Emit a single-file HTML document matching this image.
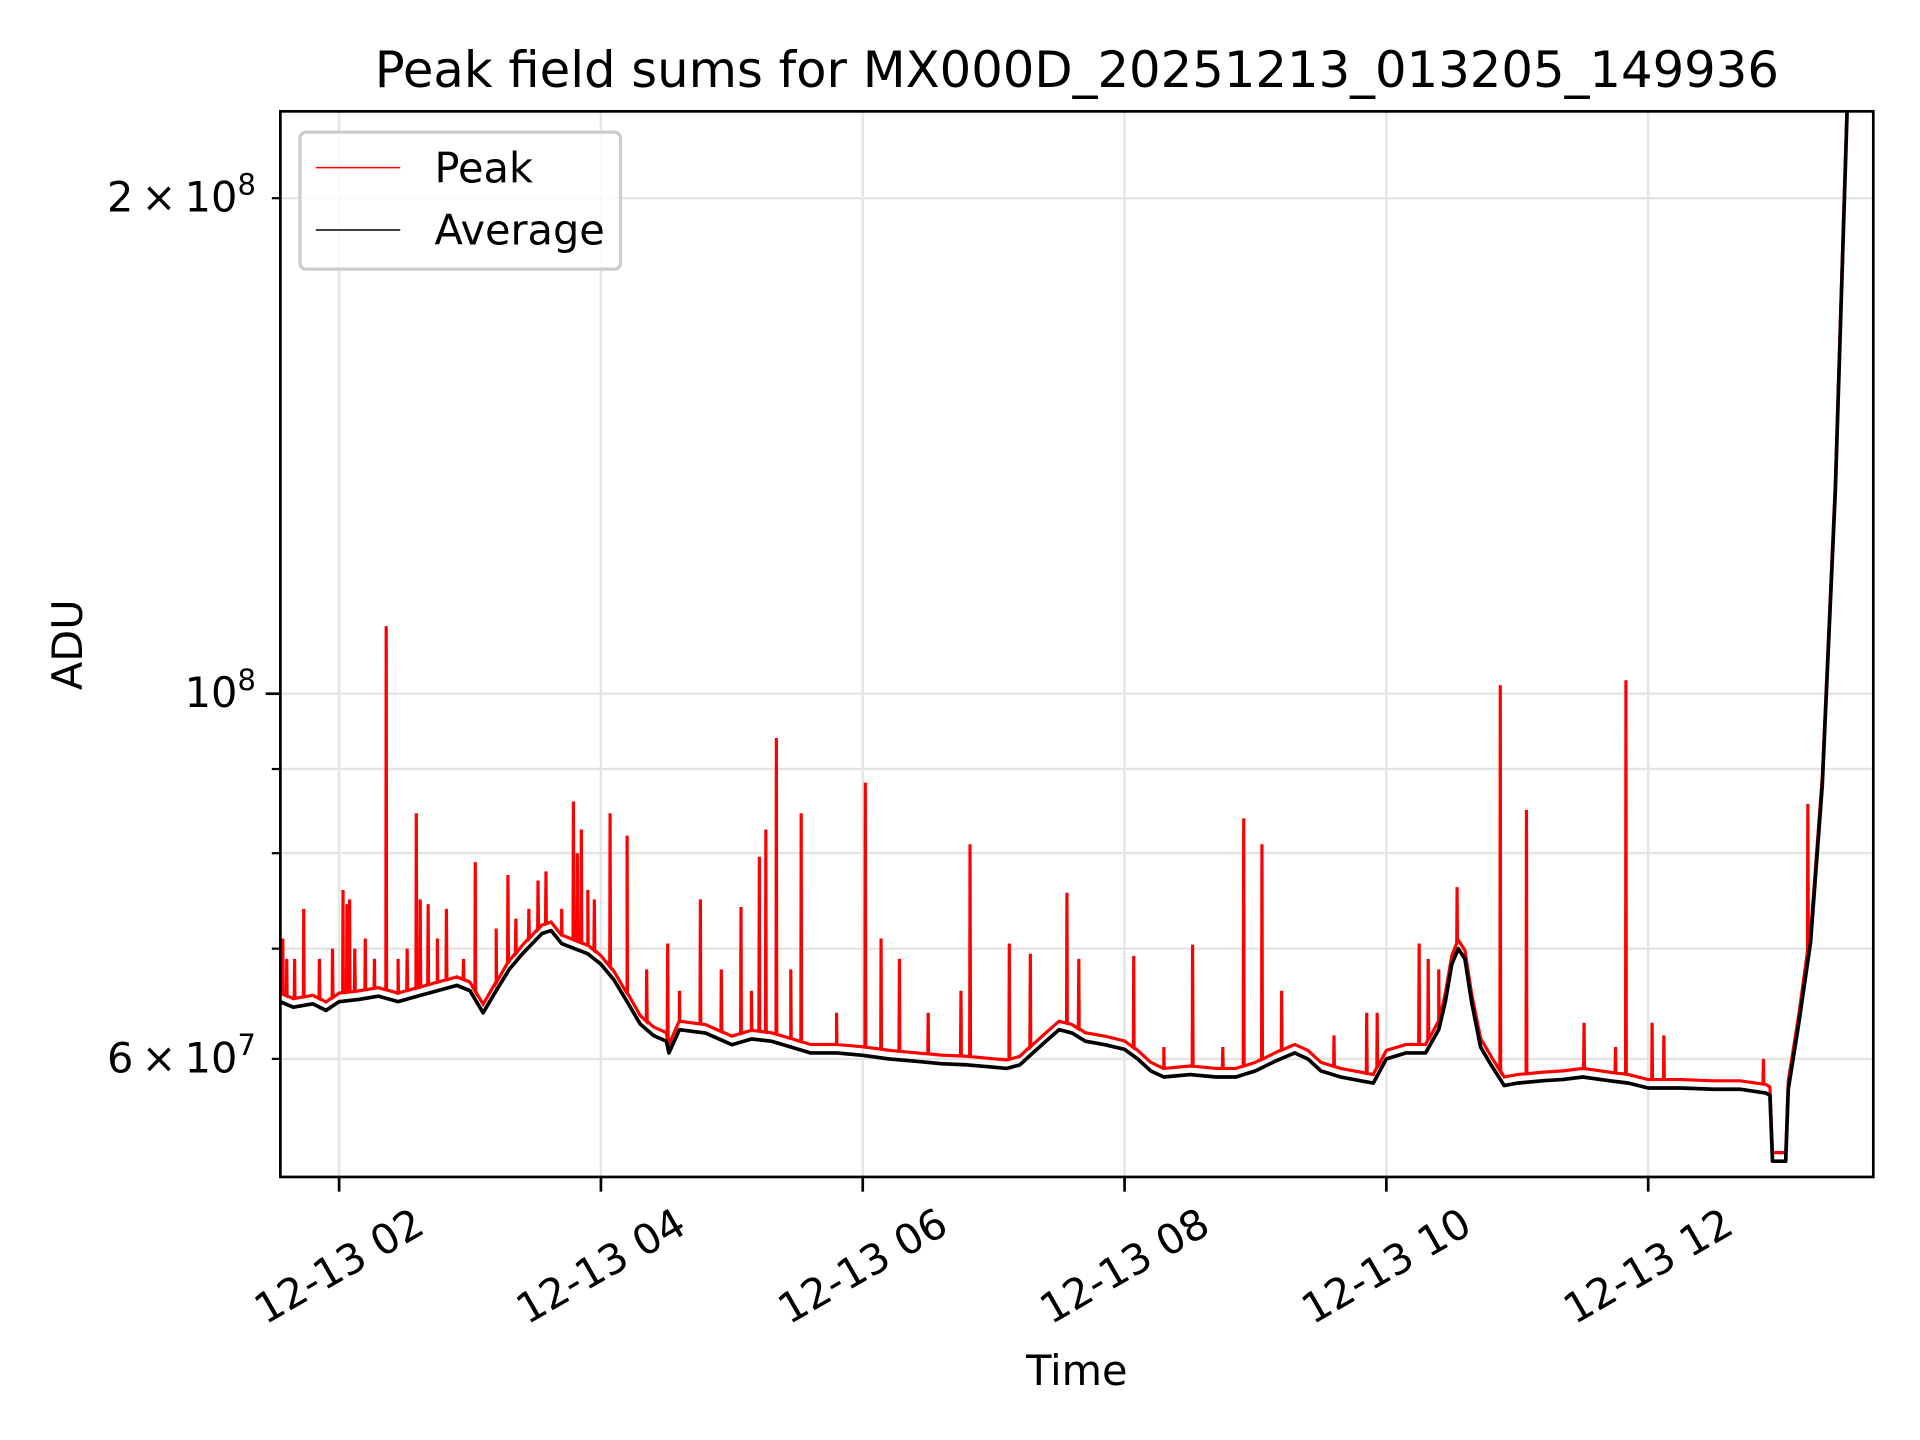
<!DOCTYPE html>
<html><head><meta charset="utf-8"><style>
html,body{margin:0;padding:0;background:#fff;}
svg{display:block;font-family:"DejaVu Sans","Liberation Sans",sans-serif;}
</style></head><body>
<svg id="chart" width="1920" height="1440" viewBox="0 0 1569 1177" xmlns="http://www.w3.org/2000/svg">
<rect x="0" y="0" width="1569" height="1177" fill="#fff"/>
<g id="grid"></g>
<g id="series"></g>
<g id="axes"></g>
<text x="880" y="71" font-size="40.6" text-anchor="middle" fill="#000">Peak field sums for MX000D_20251213_013205_149936</text>
<text x="880" y="1132" font-size="33.9" text-anchor="middle" fill="#000">Time</text>
<text transform="translate(67,527) rotate(-90)" font-size="33.9" text-anchor="middle" fill="#000">ADU</text>
<g>
<rect x="245" y="108" width="262" height="112" rx="5" fill="#fff" fill-opacity="0.8" stroke="#ccc" stroke-width="2.7"/>
<line x1="258" y1="137" x2="327" y2="137" stroke="#f00" stroke-width="1.2"/>
<text x="355" y="149" font-size="33.9">Peak</text>
<line x1="258" y1="188" x2="327" y2="188" stroke="#000" stroke-width="1.2"/>
<text x="355" y="200" font-size="33.9">Average</text>
</g>
</svg>
<script>
// Data (hours of 2025-12-13, values in units of 1e7 ADU)
const avgHours = [1.55,1.65,1.8,1.9,2.0,2.15,2.3,2.45,2.6,2.75,2.9,3.0,3.05,3.1,3.2,3.3,3.4,3.55,3.62,3.7,3.8,3.9,4.0,4.1,4.2,4.3,4.4,4.5,4.52,4.6,4.8,5.0,5.15,5.3,5.45,5.6,5.8,6.0,6.2,6.4,6.6,6.8,7.0,7.1,7.2,7.3,7.4,7.5,7.6,7.7,7.85,8.0,8.1,8.2,8.3,8.5,8.7,8.85,9.0,9.15,9.3,9.4,9.5,9.65,9.8,9.9,10.0,10.15,10.3,10.4,10.45,10.5,10.55,10.6,10.65,10.72,10.8,10.9,11.0,11.2,11.35,11.5,11.7,11.85,12.0,12.25,12.5,12.7,12.9,12.93,12.95,13.05,13.07,13.15,13.24,13.33,13.43,13.52,13.6,13.72];
const avgValues = [6.5,6.45,6.48,6.42,6.5,6.52,6.55,6.5,6.55,6.6,6.65,6.6,6.5,6.4,6.6,6.8,6.95,7.15,7.18,7.05,7.0,6.95,6.85,6.7,6.5,6.3,6.2,6.15,6.05,6.25,6.22,6.12,6.17,6.15,6.1,6.05,6.05,6.03,6.0,5.98,5.96,5.95,5.93,5.92,5.95,6.05,6.15,6.25,6.22,6.15,6.12,6.08,6.0,5.9,5.85,5.87,5.85,5.85,5.9,5.98,6.05,6.0,5.9,5.85,5.82,5.8,6.0,6.05,6.05,6.25,6.5,6.85,7.0,6.9,6.5,6.1,5.95,5.78,5.8,5.82,5.83,5.85,5.82,5.8,5.76,5.76,5.75,5.75,5.72,5.7,5.2,5.2,5.75,6.3,7.06,8.8,13.3,22.6,30,40];
const spikeHours = [1.57,1.6,1.66,1.73,1.85,1.95,2.03,2.06,2.08,2.12,2.2,2.27,2.36,2.45,2.52,2.59,2.62,2.68,2.75,2.82,2.95,3.04,3.2,3.29,3.35,3.45,3.52,3.58,3.7,3.79,3.82,3.85,3.9,3.95,4.07,4.2,4.35,4.51,4.6,4.76,4.92,5.07,5.15,5.21,5.26,5.34,5.45,5.53,5.8,6.02,6.14,6.28,6.5,6.75,6.82,7.12,7.28,7.56,7.65,8.07,8.3,8.52,8.75,8.91,9.05,9.2,9.6,9.85,9.93,10.25,10.32,10.4,10.54,10.87,11.07,11.51,11.75,11.83,12.03,12.12,12.88,13.22];
const spikeValues = [7.1,6.9,6.9,7.4,6.9,7.0,7.6,7.45,7.5,7.0,7.1,6.9,10.99,6.9,7.0,8.46,7.5,7.45,7.1,7.4,6.9,7.9,7.2,7.76,7.3,7.4,7.7,7.8,7.4,8.6,8.0,8.27,7.6,7.5,8.46,8.2,6.8,7.05,6.6,7.5,6.8,7.42,6.6,7.96,8.27,9.4,6.8,8.46,6.4,8.83,7.1,6.9,6.4,6.6,8.1,7.05,6.95,7.57,6.9,6.93,6.1,7.04,6.1,8.4,8.1,6.6,6.2,6.4,6.4,7.05,6.9,6.8,7.63,10.12,8.5,6.31,6.1,10.19,6.31,6.2,6.0,8.57];
const xTickHours = [2,4,6,8,10,12];
const xTickLabels = ["12-13 02","12-13 04","12-13 06","12-13 08","12-13 10","12-13 12"];
const yMinorTicks = [6,7,8,9,20];

const NS="http://www.w3.org/2000/svg";
const L=229,R=1531,T=91,B=962;
const xS=h=>277+(h-2)*107;
const yS=v=>567-1345.4*Math.log10(v/10);
function mk(tag,attrs,parent){const e=document.createElementNS(NS,tag);for(const k in attrs)e.setAttribute(k,attrs[k]);parent.appendChild(e);return e;}
const grid=document.getElementById('grid'),series=document.getElementById('series'),axes=document.getElementById('axes');

xTickHours.forEach(h=>{const g=mk('line',{x1:xS(h),x2:xS(h),y1:T,y2:B,stroke:'#e5e5e5','stroke-width':2},grid);

});
[10].concat(yMinorTicks).forEach(v=>{const g=mk('line',{x1:L,x2:R,y1:yS(v),y2:yS(v),stroke:'#e5e5e5','stroke-width':2},grid);

});

const defs=mk('defs',{},series);const cp=mk('clipPath',{id:'clip'},defs);mk('rect',{x:L,y:T,width:R-L,height:B-T},cp);

function baseAt(h){for(let i=0;i<avgHours.length-1;i++){if(h>=avgHours[i]&&h<=avgHours[i+1]){const t=(h-avgHours[i])/(avgHours[i+1]-avgHours[i]);return avgValues[i]+t*(avgValues[i+1]-avgValues[i]);}}return avgValues[avgValues.length-1];}
let pk=avgHours.map((h,i)=>[h,avgValues[i]*1.012]);
spikeHours.forEach((h,i)=>{const b=baseAt(h)*1.012;pk.push([h-0.003,b],[h,spikeValues[i]],[h+0.003,b]);});
pk.sort((a,b)=>a[0]-b[0]);
const pPath=pk.map((p,i)=>(i?'L':'M')+xS(p[0]).toFixed(1)+','+yS(p[1]).toFixed(1)).join('');
const peak=mk('path',{d:pPath,fill:'none',stroke:'#f00','stroke-width':2.6,'clip-path':'url(#clip)'},series);


const aPath=avgHours.map((h,i)=>(i?'L':'M')+xS(h).toFixed(1)+','+yS(avgValues[i]).toFixed(1)).join('');
const avg=mk('path',{d:aPath,fill:'none',stroke:'#000','stroke-width':3,'stroke-linejoin':'round','clip-path':'url(#clip)'},series);



const fr=mk('rect',{x:L,y:T,width:R-L,height:B-T,fill:'none',stroke:'#000','stroke-width':2.2},axes);


xTickHours.forEach((h,i)=>{const x=xS(h);mk('line',{x1:x,x2:x,y1:B,y2:B+12,stroke:'#000','stroke-width':2.2},axes);
const t=mk('text',{transform:`translate(${x},1035) rotate(-30)`,'font-size':33.9,'text-anchor':'middle','dominant-baseline':'central'},axes);
t.textContent=xTickLabels[i];

});
mk('line',{x1:L-12,x2:L,y1:yS(10),y2:yS(10),stroke:'#000','stroke-width':2.2},axes);
yMinorTicks.forEach(v=>{mk('line',{x1:L-7,x2:L,y1:yS(v),y2:yS(v),stroke:'#000','stroke-width':1.8},axes);});
function ylab(v,mant,exp){const y=yS(v);const t=mk('text',{x:L-20,y:y+11,'font-size':33.9,'text-anchor':'end'},axes);


const a=document.createElementNS(NS,'tspan');a.textContent=(mant?mant+'\u2009\u00d7\u2009':'')+'10';t.appendChild(a);
const s=document.createElementNS(NS,'tspan');s.setAttribute('font-size','23.7');s.setAttribute('dy','-14');s.textContent=exp;t.appendChild(s);}
ylab(20,'2','8');ylab(10,'','8');ylab(6,'6','7');
</script>
</body></html>
